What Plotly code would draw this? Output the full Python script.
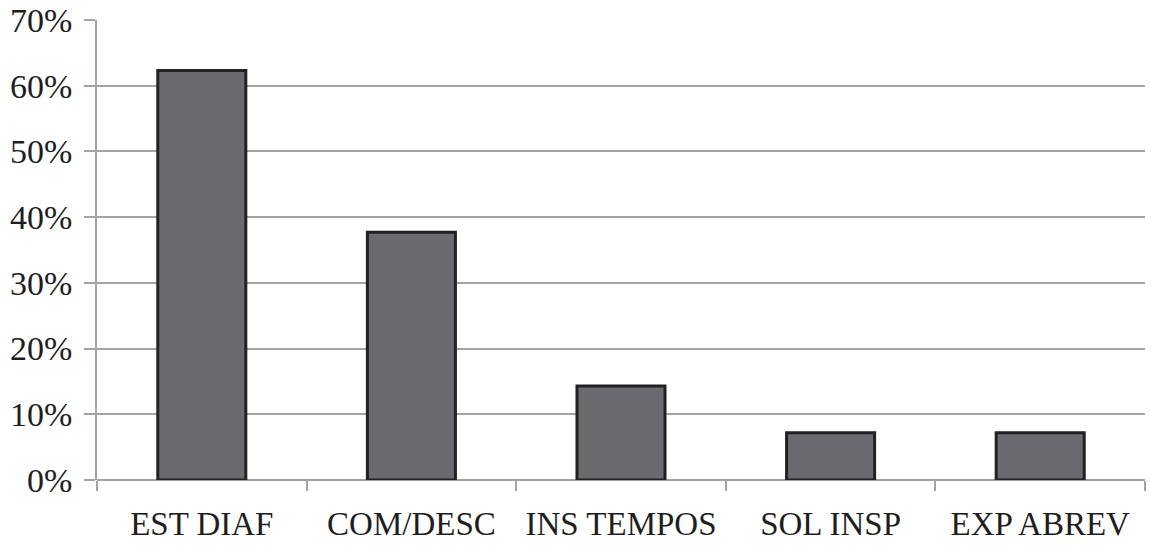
import plotly.graph_objects as go

# Share of responses by category
categories = ["EST DIAF", "COM/DESC", "INS TEMPOS", "SOL INSP", "EXP ABREV"]
shares = [62.3, 37.7, 14.3, 7.2, 7.2]
y_ticks = [0, 10, 20, 30, 40, 50, 60, 70]
y_tick_labels = [f"{v}%" for v in y_ticks]

FONT = "Liberation Serif, Times New Roman, serif"
GRID = "#a3a3a3"

fig = go.Figure(
    go.Bar(
        x=categories,
        y=shares,
        width=0.42,
        marker=dict(color="#6a6b6f", line=dict(color="#222222", width=3)),
        hoverinfo="x+y",
    )
)

fig.update_layout(
    width=1151,
    height=545,
    margin=dict(l=97, r=6, t=20, b=65),
    paper_bgcolor="white",
    plot_bgcolor="white",
    showlegend=False,
    font=dict(family=FONT, size=34, color="#1e1e1e"),
)

fig.update_xaxes(
    type="category",
    automargin=False,
    tickson="boundaries",
    ticks="outside",
    ticklen=10,
    tickwidth=1.5,
    tickcolor=GRID,
    showline=False,
    showgrid=False,
    zeroline=False,
    tickfont=dict(family=FONT, size=33, color="#1e1e1e"),
    ticklabelstandoff=21,
    ticklabeloverflow="allow",
)

fig.update_yaxes(
    automargin=False,
    range=[0, 70],
    tickvals=y_ticks,
    ticktext=y_tick_labels,
    ticks="outside",
    ticklen=11,
    tickwidth=1.5,
    tickcolor=GRID,
    showgrid=True,
    gridcolor=GRID,
    gridwidth=1.5,
    showline=True,
    linecolor=GRID,
    linewidth=1.5,
    zeroline=True,
    zerolinecolor=GRID,
    zerolinewidth=1.5,
    tickfont=dict(family=FONT, size=34, color="#1e1e1e"),
    ticklabelstandoff=5,
    ticklabeloverflow="allow",
)

fig.write_html("out.html")
